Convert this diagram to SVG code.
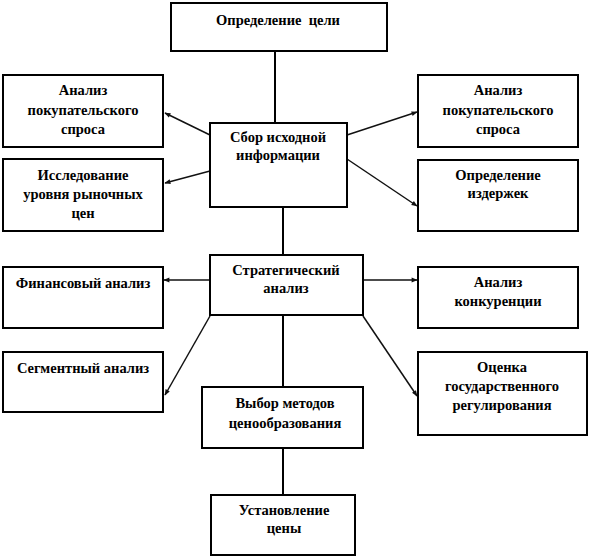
<svg xmlns="http://www.w3.org/2000/svg" width="590" height="559" viewBox="0 0 590 559">
<style>
.box{fill:#fff;stroke:#000;stroke-width:2}
.t{font-family:'Liberation Serif','DejaVu Serif',serif;font-weight:700;font-size:14.5px;fill:#000;text-anchor:middle}
.ln{stroke:#000;stroke-width:2;fill:none}
.ar{stroke:#111;stroke-width:1.5;fill:none;marker-end:url(#ah)}
</style>
<defs>
<marker id="ah" viewBox="0 0 10 10" refX="9" refY="5" markerWidth="7" markerHeight="6" orient="auto" markerUnits="userSpaceOnUse">
<path d="M0,1 L10,5 L0,9 Z" fill="#111"/>
</marker>
</defs>
<rect width="590" height="559" fill="#fff"/>
<g id="connectors">
<line class="ln" x1="275" y1="52" x2="275" y2="123"/>
<line class="ln" x1="283" y1="207" x2="283" y2="255"/>
<line class="ln" x1="283" y1="315" x2="283" y2="387"/>
<line class="ln" x1="283" y1="448" x2="283" y2="495"/>
<line class="ar" x1="210" y1="135" x2="165" y2="113"/>
<line class="ar" x1="210" y1="171" x2="165" y2="183"/>
<line class="ar" x1="347" y1="135" x2="417" y2="112"/>
<line class="ar" x1="347" y1="159" x2="417" y2="206"/>
<line class="ar" x1="210" y1="280" x2="164" y2="280"/>
<line class="ar" x1="363" y1="280" x2="417" y2="280"/>
<line class="ar" x1="210" y1="316" x2="165" y2="395"/>
<line class="ar" x1="363" y1="316" x2="417" y2="396"/>
</g>
<g id="n-goal"><rect class="box" x="171" y="3" width="216" height="48"/><text class="t" x="278" y="25" xml:space="preserve">Определение  цели</text></g>
<g id="n-collect"><rect class="box" x="210" y="123" width="137" height="84"/><text class="t" x="278" y="142">Сбор исходной</text><text class="t" x="278" y="160">информации</text></g>
<g id="n-demand-l"><rect class="box" x="3" y="75" width="160" height="72"/><text class="t" x="83" y="95">Анализ</text><text class="t" x="83" y="115">покупательского</text><text class="t" x="83" y="134">спроса</text></g>
<g id="n-market"><rect class="box" x="3" y="159" width="160" height="72"/><text class="t" x="83" y="180">Исследование</text><text class="t" x="83" y="199">уровня рыночных</text><text class="t" x="83" y="218">цен</text></g>
<g id="n-demand-r"><rect class="box" x="418" y="75" width="160" height="72"/><text class="t" x="498" y="95">Анализ</text><text class="t" x="498" y="115">покупательского</text><text class="t" x="498" y="134">спроса</text></g>
<g id="n-costs"><rect class="box" x="418" y="160" width="160" height="71"/><text class="t" x="498" y="180">Определение</text><text class="t" x="498" y="198">издержек</text></g>
<g id="n-strategy"><rect class="box" x="210" y="255" width="153" height="60"/><text class="t" x="286" y="275">Стратегический</text><text class="t" x="286" y="293">анализ</text></g>
<g id="n-finance"><rect class="box" x="3" y="267" width="160" height="61"/><text class="t" x="83" y="288">Финансовый анализ</text></g>
<g id="n-segment"><rect class="box" x="3" y="352" width="160" height="60"/><text class="t" x="83" y="373">Сегментный анализ</text></g>
<g id="n-compet"><rect class="box" x="418" y="267" width="160" height="61"/><text class="t" x="498" y="287">Анализ</text><text class="t" x="498" y="306">конкуренции</text></g>
<g id="n-regul"><rect class="box" x="418" y="352" width="169" height="83"/><text class="t" x="502" y="372">Оценка</text><text class="t" x="502" y="391">государственного</text><text class="t" x="502" y="410">регулирования</text></g>
<g id="n-method"><rect class="box" x="202" y="387" width="161" height="61"/><text class="t" x="285" y="408">Выбор методов</text><text class="t" x="285" y="428">ценообразования</text></g>
<g id="n-price"><rect class="box" x="211" y="495" width="144" height="60"/><text class="t" x="284" y="515">Установление</text><text class="t" x="284" y="533">цены</text></g>
</svg>
